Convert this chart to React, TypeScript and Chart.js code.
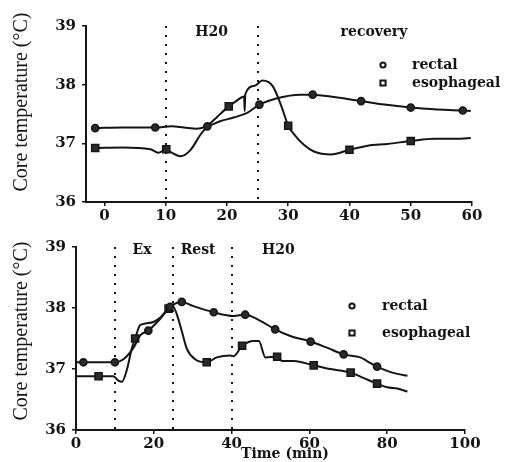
import React, { useEffect, useRef } from "react";
import { Chart, registerables } from "chart.js";

Chart.register(...registerables);

// ---------- data ----------
const yTicks = [36, 37, 38, 39];
const topXTicks = [0, 10, 20, 30, 40, 50, 60];
const bottomXTicks = [0, 20, 40, 60, 80, 100];

const topDividers = [10, 25];
const topPhaseLabels = ["H20", "recovery"];
const topPhaseAt = [17.5, 44];

const bottomDividers = [10, 25, 40];
const bottomPhaseLabels = ["Ex", "Rest", "H20"];
const bottomPhaseAt = [17, 31.4, 52];

const legendLabels = ["rectal", "esophageal"];
const yTitle = "Core temperature (°C)";
const xTitle = "Time (min)";

// top panel – rectal
const topRectalTime = [-1.5, 3, 8.3, 11, 13, 15.1, 16.8, 19, 21.1, 23.3, 25.3, 28.2, 32, 34, 37.5, 41.9, 45.7, 50, 53.8, 58.5, 59.8];
const topRectalTemp = [37.26, 37.27, 37.27, 37.29, 37.27, 37.25, 37.29, 37.38, 37.44, 37.52, 37.66, 37.77, 37.83, 37.83, 37.79, 37.72, 37.66, 37.61, 37.58, 37.56, 37.55];
const topRectalMarks = [0, 2, 6, 10, 13, 15, 17, 19];

// top panel – esophageal
const topEsoTime = [-1.5, 3, 7.5, 8.8, 10.1, 11, 12.4, 14, 15.7, 16.8, 18.4, 20.3, 21.5, 22.8, 22.9, 23.0, 24.5, 25.8, 27.5, 29, 30, 31, 32.6, 34.2, 37, 40, 43, 46.2, 50, 53.8, 58.2, 59.8];
const topEsoTemp = [36.92, 36.93, 36.9, 36.84, 36.9, 36.84, 36.78, 36.88, 37.15, 37.29, 37.45, 37.63, 37.72, 37.8, 37.55, 37.84, 37.98, 38.07, 37.97, 37.6, 37.3, 37.15, 36.97, 36.86, 36.81, 36.89, 36.96, 36.99, 37.04, 37.08, 37.08, 37.09];
const topEsoMarks = [0, 4, 11, 20, 25, 28];

// bottom panel – rectal
const bottomRectalTime = [0, 1.9, 6, 10, 12.2, 14.8, 16.5, 18.6, 21.6, 24.2, 27.2, 30.2, 35.4, 40.5, 43.5, 47.4, 51.2, 55.1, 60.3, 64.5, 68.8, 73.1, 74.8, 77.4, 80, 82.6, 85.2];
const bottomRectalTemp = [37.11, 37.11, 37.11, 37.11, 37.16, 37.35, 37.55, 37.63, 37.82, 38.02, 38.1, 38.03, 37.93, 37.87, 37.89, 37.79, 37.65, 37.54, 37.45, 37.35, 37.24, 37.19, 37.13, 37.04, 36.97, 36.92, 36.89];
const bottomRectalMarks = [1, 3, 7, 9, 10, 12, 14, 16, 18, 20, 23];

// bottom panel – esophageal
const bottomEsoTime = [0, 5.8, 9.6, 10.9, 11.8, 13, 14.4, 15.2, 16.5, 18.2, 19.9, 21.6, 23.8, 25.1, 25.9, 27.2, 28.5, 30.6, 33.6, 36.2, 39.7, 40.5, 42.7, 45.7, 47, 48.7, 51.7, 53, 56, 61.1, 65.4, 70.6, 74, 77.4, 80, 82.6, 85.2];
const bottomEsoTemp = [36.88, 36.88, 36.88, 36.81, 36.79, 36.97, 37.35, 37.5, 37.72, 37.75, 37.77, 37.84, 37.99, 38.01, 37.9, 37.62, 37.33, 37.16, 37.11, 37.19, 37.22, 37.21, 37.38, 37.46, 37.46, 37.19, 37.2, 37.13, 37.13, 37.06, 37.0, 36.94, 36.85, 36.76, 36.7, 36.68, 36.63];
const bottomEsoMarks = [1, 7, 12, 18, 22, 26, 29, 31, 33];

// ---------- styling ----------
const INK = "#141414";
const BOLD = "'DejaVu Serif', serif";

function toPoints(t: number[], v: number[]) {
  return t.map((x, i) => ({ x, y: v[i] }));
}

function dataset(label: string, t: number[], v: number[], marks: number[], style: string) {
  const r = style === "rect" ? 5 : 3.6;
  return {
    label,
    data: toPoints(t, v),
    borderColor: INK,
    borderWidth: 2,
    backgroundColor: INK,
    pointStyle: style,
    pointRadius: (c: any) => (marks.includes(c.dataIndex) ? r : 0),
    pointHoverRadius: 0,
    pointBorderColor: INK,
    pointBackgroundColor: "#2a2a2a",
    pointBorderWidth: 1.5,
    cubicInterpolationMode: "monotone",
    fill: false,
  };
}

type PanelCfg = {
  xMin: number;
  xMax: number;
  xTicks: number[];
  left: number;
  right: number;
  top: number;
  bottom: number;
  dividers: number[];
  phaseLabels: string[];
  phaseAt: number[];
  phaseY: number;
  legendMarkerDx: number;
  legendTextDx: number;
  legendY: number[];
  titleY: number;
  showXTitle: boolean;
  rectal: any;
  eso: any;
};

function overlay(o: PanelCfg) {
  return {
    id: "overlay",
    beforeDatasetsDraw(chart: any) {
      const { ctx, chartArea, scales } = chart;
      ctx.save();
      ctx.strokeStyle = INK;
      ctx.lineWidth = 2;
      ctx.setLineDash([2, 7]);
      for (const d of o.dividers) {
        const px = Math.round(scales.x.getPixelForValue(d));
        ctx.beginPath();
        ctx.moveTo(px, chartArea.top);
        ctx.lineTo(px, chartArea.bottom);
        ctx.stroke();
      }
      ctx.restore();
    },
    afterDraw(chart: any) {
      const { ctx, chartArea, scales } = chart;
      ctx.save();
      ctx.fillStyle = INK;
      ctx.strokeStyle = INK;
      // phase labels
      ctx.font = `bold 14px ${BOLD}`;
      ctx.textAlign = "center";
      ctx.textBaseline = "middle";
      o.phaseLabels.forEach((s, i) => {
        ctx.fillText(s, scales.x.getPixelForValue(o.phaseAt[i]), chartArea.top + o.phaseY);
      });
      // legend
      const mx = chartArea.right - o.legendMarkerDx;
      const tx = chartArea.right - o.legendTextDx;
      ctx.lineWidth = 2;
      legendLabels.forEach((s, i) => {
        const y = o.legendY[i];
        ctx.beginPath();
        if (i === 0) ctx.arc(mx, y, 2.6, 0, Math.PI * 2);
        else ctx.rect(mx - 2.6, y - 2.6, 5.2, 5.2);
        ctx.stroke();
        ctx.textAlign = "left";
        ctx.fillText(s, tx, y);
      });
      // y title
      ctx.save();
      ctx.font = `20px 'Liberation Serif', serif`;
      ctx.translate(22, o.titleY);
      ctx.rotate(-Math.PI / 2);
      ctx.textAlign = "center";
      ctx.textBaseline = "middle";
      ctx.fillText(yTitle, 0, 0);
      ctx.restore();
      // x title
      if (o.showXTitle) {
        ctx.font = `bold 14px ${BOLD}`;
        ctx.textAlign = "center";
        ctx.textBaseline = "middle";
        ctx.fillText(xTitle, chartArea.left + 209, chartArea.bottom + 24);
      }
      ctx.restore();
    },
  };
}

function build(canvas: HTMLCanvasElement, o: PanelCfg) {
  const W = 514;
  const H = 231;
  return new Chart(canvas, {
    type: "line",
    data: { datasets: [o.rectal, o.eso] as any },
    options: {
      responsive: false,
      maintainAspectRatio: false,
      devicePixelRatio: 1,
      animation: false,
      events: [],
      layout: { padding: { left: 0, right: W - o.right, top: o.top, bottom: 0 } },
      plugins: { legend: { display: false }, tooltip: { enabled: false }, title: { display: false } },
      scales: {
        x: {
          type: "linear",
          min: o.xMin,
          max: o.xMax,
          afterFit: (s: any) => {
            s.height = H - o.bottom;
          },
          afterBuildTicks: (s: any) => {
            s.ticks = o.xTicks.map((v) => ({ value: v }));
          },
          border: { display: true, color: INK, width: 2 },
          grid: { display: true, drawOnChartArea: false, drawTicks: true, tickLength: 4, color: INK, lineWidth: 1.5 },
          ticks: {
            color: INK,
            font: { family: BOLD, size: 15, weight: "bold" },
            padding: 1,
            maxRotation: 0,
            autoSkip: false,
          },
        },
        y: {
          type: "linear",
          min: 36,
          max: 39,
          afterFit: (s: any) => {
            s.width = o.left;
          },
          afterBuildTicks: (s: any) => {
            s.ticks = yTicks.map((v) => ({ value: v }));
          },
          border: { display: true, color: INK, width: 2 },
          grid: { display: true, drawOnChartArea: false, drawTicks: true, tickLength: 4, color: INK, lineWidth: 1.5 },
          ticks: {
            color: INK,
            font: { family: BOLD, size: 15, weight: "bold" },
            padding: 6,
          },
        },
      },
    } as any,
    plugins: [overlay(o)],
  });
}

export default function App() {
  const topRef = useRef<HTMLCanvasElement>(null);
  const botRef = useRef<HTMLCanvasElement>(null);

  useEffect(() => {
    const top = build(topRef.current!, {
      xMin: -3,
      xMax: 60,
      xTicks: topXTicks,
      left: 86,
      right: 472,
      top: 26,
      bottom: 202,
      dividers: topDividers,
      phaseLabels: topPhaseLabels,
      phaseAt: topPhaseAt,
      phaseY: 6,
      legendMarkerDx: 89,
      legendTextDx: 60,
      legendY: [65, 83],
      titleY: 102,
      showXTitle: false,
      rectal: dataset("rectal", topRectalTime, topRectalTemp, topRectalMarks, "circle"),
      eso: dataset("esophageal", topEsoTime, topEsoTemp, topEsoMarks, "rect"),
    });
    const bottom = build(botRef.current!, {
      xMin: 0,
      xMax: 100,
      xTicks: bottomXTicks,
      left: 76,
      right: 465,
      top: 16,
      bottom: 199,
      dividers: bottomDividers,
      phaseLabels: bottomPhaseLabels,
      phaseAt: bottomPhaseAt,
      phaseY: 3,
      legendMarkerDx: 113,
      legendTextDx: 83,
      legendY: [75, 102],
      titleY: 100,
      showXTitle: true,
      rectal: dataset("rectal", bottomRectalTime, bottomRectalTemp, bottomRectalMarks, "circle"),
      eso: dataset("esophageal", bottomEsoTime, bottomEsoTemp, bottomEsoMarks, "rect"),
    });
    return () => {
      top.destroy();
      bottom.destroy();
    };
  }, []);

  return (
    <div style={{ position: "absolute", left: 0, top: 0, width: 514, height: 462, background: "#fff" }}>
      <canvas ref={topRef} width={514} height={231} style={{ position: "absolute", left: 0, top: 0 }} />
      <canvas ref={botRef} width={514} height={231} style={{ position: "absolute", left: 0, top: 231 }} />
    </div>
  );
}
